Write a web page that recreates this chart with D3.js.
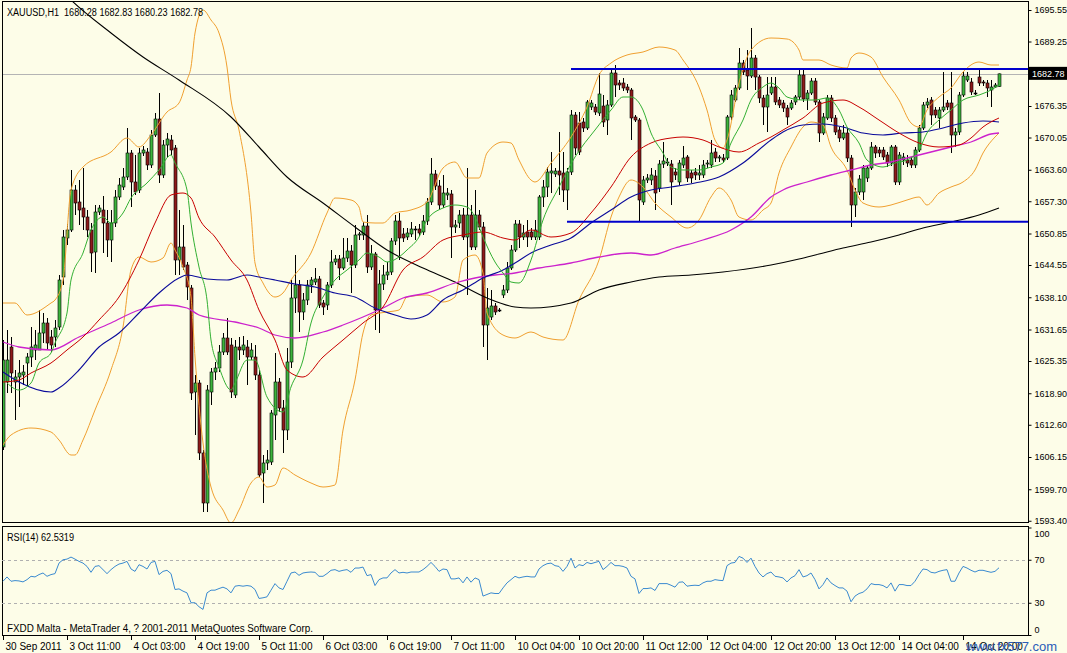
<!DOCTYPE html>
<html><head><meta charset="utf-8">
<script src="https://cdn.jsdelivr.net/npm/d3@7"></script>
<style>html,body{margin:0;padding:0;overflow:hidden;background:#fdfde8}svg{display:block}text{font-family:"Liberation Sans",Arial,sans-serif}</style>
</head><body><svg id="c" width="1067" height="653"></svg>
<script>
// ---------- DATA ----------
const symbolTitle = "XAUUSD,H1  1680.28 1682.83 1680.23 1682.78";
const rsiTitle = "RSI(14) 62.5319";
const footer = "FXDD Malta - MetaTrader 4, ? 2001-2011 MetaQuotes Software Corp.";
const timeLabels = ["30 Sep 2011","3 Oct 11:00","4 Oct 03:00","4 Oct 19:00","5 Oct 11:00","6 Oct 03:00","6 Oct 19:00","7 Oct 11:00","10 Oct 04:00","10 Oct 20:00","11 Oct 12:00","12 Oct 04:00","12 Oct 20:00","13 Oct 12:00","14 Oct 04:00","14 Oct 20:00"];
const timeLabelBars = [0,16,32,48,64,80,96,112,128,144,160,176,192,208,224,240];
const priceTicks = [1695.55,1689.25,1676.35,1670.05,1663.60,1657.30,1650.85,1644.55,1638.10,1631.65,1625.35,1618.90,1612.60,1606.15,1599.70,1593.40];
const rsiTicks = [100,70,30,0];
const lastPrice = 1682.78;
const resistance = {price:1683.75, fromBar:142};
const support = {price:1653.20, fromBar:141};

const open = [1608.15,1621.15,1628.15,1621.15,1622.15,1622.55,1624.95,1626.15,1627.55,1627.55,
1630.95,1632.95,1630.15,1630.15,1632.15,1642.15,1649.95,1651.55,1659.55,1657.15,
1655.95,1654.15,1651.55,1647.15,1655.15,1655.55,1652.95,1649.55,1652.95,1658.15,
1660.15,1662.15,1666.95,1661.15,1659.55,1666.95,1667.15,1664.55,1670.55,1673.75,
1662.55,1668.55,1669.55,1667.95,1645.55,1648.15,1644.55,1639.95,1619.15,1620.95,
1606.95,1596.95,1619.15,1623.15,1623.95,1627.15,1629.95,1628.55,1618.55,1628.15,
1627.55,1628.15,1626.15,1626.15,1622.55,1602.95,1604.95,1605.15,1614.55,1621.15,
1615.95,1611.55,1625.15,1637.95,1640.55,1635.15,1637.55,1640.55,1641.15,1641.75,
1636.95,1636.55,1640.55,1645.15,1645.75,1643.95,1645.95,1647.35,1644.55,1650.55,
1650.55,1652.35,1644.15,1646.75,1635.55,1640.75,1642.55,1643.15,1649.35,1653.35,
1650.75,1650.15,1650.75,1651.75,1651.75,1651.15,1653.35,1657.15,1662.75,1660.35,
1656.55,1658.55,1658.75,1652.15,1652.95,1654.55,1650.15,1654.55,1648.15,1654.55,
1652.15,1632.55,1634.15,1636.35,1635.55,1638.55,1639.55,1643.95,1647.55,1652.75,
1650.15,1651.15,1651.15,1650.15,1650.15,1658.15,1660.15,1662.95,1662.75,1663.35,
1662.95,1659.55,1663.15,1674.55,1672.95,1673.15,1671.95,1676.15,1676.15,1674.95,
1676.35,1673.55,1676.55,1682.95,1680.95,1680.95,1680.15,1679.55,1674.15,1673.55,
1657.15,1661.55,1661.55,1662.35,1659.95,1664.75,1665.15,1664.75,1663.15,1661.15,
1664.55,1666.15,1662.95,1663.15,1662.55,1662.55,1664.75,1664.55,1667.15,1665.95,
1665.95,1665.95,1674.15,1677.55,1679.95,1684.95,1683.55,1682.35,1685.95,1682.15,
1677.95,1676.15,1678.95,1680.15,1677.55,1676.95,1675.95,1675.95,1677.15,1678.15,
1682.55,1677.75,1678.95,1681.35,1677.15,1670.95,1673.95,1677.95,1673.95,1671.55,
1669.95,1670.95,1665.95,1656.55,1659.15,1659.15,1661.95,1663.95,1668.15,1667.55,
1667.55,1666.55,1664.95,1668.15,1661.15,1665.55,1665.55,1665.55,1664.55,1667.55,
1671.95,1676.55,1677.55,1675.55,1673.95,1675.55,1676.95,1676.95,1670.55,1671.15,
1678.55,1681.55,1681.15,1678.95,1682.15,1681.15,1680.95,1679.55,1680.15,1680.28];
const high = [1629.55,1631.55,1630.15,1623.55,1625.55,1624.55,1626.95,1632.15,1631.55,1635.55,
1634.95,1633.95,1631.55,1633.55,1642.55,1651.55,1652.75,1663.55,1660.55,1661.55,
1663.95,1655.55,1652.95,1656.55,1656.55,1658.35,1655.55,1655.55,1659.55,1661.95,
1663.95,1671.95,1667.55,1666.55,1667.95,1668.35,1667.95,1671.55,1674.95,1678.95,
1669.55,1670.95,1670.55,1668.55,1655.55,1652.55,1645.15,1640.55,1622.55,1621.55,
1607.55,1620.55,1623.95,1625.15,1628.55,1630.95,1633.95,1629.95,1629.55,1630.15,
1630.35,1629.55,1628.95,1628.55,1623.55,1606.55,1607.55,1615.55,1626.95,1621.95,
1617.55,1627.95,1641.55,1646.55,1641.55,1638.95,1641.55,1642.15,1643.95,1642.35,
1637.55,1641.15,1647.55,1646.55,1646.55,1649.95,1649.95,1648.55,1652.55,1651.15,
1653.15,1654.55,1648.55,1647.15,1643.55,1644.55,1645.15,1649.95,1654.55,1654.95,
1651.95,1651.95,1653.15,1652.35,1652.75,1654.55,1657.95,1665.95,1663.55,1661.55,
1662.55,1659.95,1659.55,1653.55,1655.55,1655.95,1663.95,1656.55,1659.55,1655.55,
1653.15,1639.95,1639.55,1636.95,1635.95,1640.55,1645.15,1648.55,1653.55,1653.55,
1652.55,1653.55,1651.95,1653.55,1658.55,1661.55,1664.15,1667.15,1663.95,1671.15,
1667.15,1663.95,1675.55,1675.15,1675.15,1673.95,1677.55,1677.55,1676.75,1682.95,
1678.55,1677.55,1683.95,1684.55,1681.55,1681.95,1680.75,1679.95,1674.55,1673.95,
1662.35,1662.75,1663.95,1663.55,1665.55,1669.15,1665.95,1665.55,1663.95,1665.55,
1668.35,1666.55,1663.55,1663.95,1664.55,1665.55,1665.55,1669.55,1667.95,1666.55,
1666.75,1674.55,1679.55,1680.55,1687.95,1685.55,1687.55,1691.95,1686.55,1682.55,
1678.55,1682.15,1682.15,1682.15,1678.15,1677.55,1676.55,1677.55,1678.55,1683.55,
1683.55,1679.55,1681.95,1681.95,1677.55,1674.95,1678.55,1678.55,1674.55,1672.15,
1672.55,1671.95,1666.55,1659.95,1662.55,1664.55,1664.55,1669.15,1668.55,1668.15,
1668.15,1667.15,1668.55,1668.55,1667.15,1666.95,1666.55,1666.15,1668.15,1672.55,
1677.15,1677.95,1678.15,1676.15,1676.15,1683.15,1677.55,1683.15,1671.95,1679.15,
1683.15,1683.15,1681.95,1679.55,1683.55,1681.55,1681.55,1681.55,1680.95,1682.83];
const low = [1607.55,1618.95,1618.95,1613.55,1616.15,1620.55,1620.15,1624.15,1625.55,1627.55,
1628.95,1627.55,1627.15,1628.15,1631.55,1640.55,1648.55,1651.15,1654.55,1652.55,
1651.55,1650.15,1643.15,1642.95,1654.55,1646.95,1646.15,1645.15,1652.15,1657.55,
1659.55,1661.55,1656.15,1658.55,1658.95,1666.35,1663.55,1663.95,1670.15,1660.95,
1661.95,1666.15,1666.55,1642.55,1642.55,1643.55,1637.55,1617.55,1610.55,1605.55,
1595.15,1595.15,1616.55,1621.55,1623.15,1626.55,1626.55,1617.95,1617.95,1625.55,
1626.55,1620.55,1625.55,1621.55,1602.15,1596.95,1603.55,1604.55,1609.55,1615.15,
1606.95,1609.55,1623.95,1634.95,1631.15,1633.55,1636.55,1638.95,1640.55,1635.95,
1634.55,1635.55,1639.95,1644.55,1641.55,1643.55,1645.15,1638.95,1643.95,1649.55,
1649.55,1642.95,1643.55,1631.55,1630.95,1639.55,1641.55,1642.55,1648.55,1645.55,
1649.15,1649.55,1650.15,1649.55,1650.35,1650.55,1652.55,1656.55,1659.55,1655.55,
1655.95,1657.55,1645.95,1650.95,1651.95,1649.55,1638.55,1647.55,1647.55,1651.55,
1628.15,1625.55,1633.55,1634.55,1635.15,1637.95,1638.95,1643.55,1647.15,1647.95,
1649.55,1648.15,1649.55,1649.55,1649.55,1656.15,1658.15,1658.95,1662.15,1658.55,
1657.15,1655.55,1662.55,1666.55,1666.55,1671.15,1671.55,1675.55,1674.55,1674.35,
1672.15,1670.55,1676.15,1678.15,1679.55,1679.35,1678.95,1669.55,1673.15,1653.15,
1656.55,1660.95,1660.55,1655.55,1659.15,1663.95,1664.35,1656.55,1661.55,1660.55,
1663.95,1661.15,1660.95,1661.55,1661.55,1661.95,1663.95,1663.95,1665.15,1665.15,
1664.95,1665.55,1673.55,1677.15,1679.55,1682.55,1679.55,1681.95,1679.55,1676.95,
1672.55,1671.15,1678.55,1676.55,1675.95,1675.15,1672.55,1675.55,1676.55,1677.55,
1677.15,1675.55,1678.55,1676.55,1669.15,1670.55,1673.55,1673.15,1670.55,1669.15,
1669.55,1665.15,1652.15,1654.15,1658.55,1657.55,1661.15,1663.55,1665.95,1666.15,
1665.55,1664.15,1664.35,1660.55,1660.55,1664.55,1664.15,1663.95,1663.95,1667.15,
1671.55,1675.95,1672.55,1673.95,1671.95,1675.15,1675.55,1666.95,1668.15,1670.55,
1678.15,1681.15,1678.55,1678.55,1680.35,1680.35,1678.15,1676.15,1679.95,1680.23];
const close = [1625.55,1625.55,1622.95,1622.15,1622.95,1623.15,1626.15,1628.15,1628.55,1630.95,
1632.95,1628.95,1628.55,1631.95,1641.55,1650.15,1651.55,1659.55,1656.95,1655.55,
1654.15,1651.55,1646.95,1655.15,1655.95,1652.95,1649.55,1652.95,1658.15,1660.55,
1662.15,1666.95,1661.15,1659.15,1666.95,1667.55,1664.55,1670.55,1673.75,1662.55,
1668.55,1669.75,1667.55,1645.55,1648.15,1644.15,1640.15,1618.95,1620.95,1606.95,
1596.95,1619.55,1623.15,1623.95,1627.15,1629.95,1627.15,1619.15,1628.15,1627.55,
1628.55,1626.15,1627.55,1622.55,1602.55,1604.95,1605.55,1614.95,1621.15,1615.95,
1611.55,1625.15,1637.95,1640.55,1635.15,1637.55,1640.55,1641.55,1641.75,1636.55,
1636.15,1640.55,1645.15,1645.75,1643.95,1645.95,1647.35,1644.55,1650.55,1650.75,
1652.35,1644.15,1646.75,1635.55,1640.75,1642.55,1643.15,1649.35,1653.35,1649.95,
1649.95,1650.95,1651.75,1651.75,1650.95,1653.35,1657.15,1662.75,1660.35,1656.55,
1658.95,1658.95,1652.15,1652.55,1654.55,1650.15,1654.55,1648.15,1654.55,1652.15,
1632.55,1635.95,1636.35,1635.15,1635.55,1639.55,1643.95,1647.55,1652.75,1650.15,
1650.95,1650.15,1650.15,1651.55,1658.15,1660.15,1663.15,1663.35,1663.35,1662.55,
1659.55,1663.15,1674.55,1667.95,1667.15,1671.95,1677.15,1676.95,1675.15,1678.75,
1673.15,1676.55,1682.95,1680.55,1680.55,1679.95,1679.55,1673.95,1673.55,1657.55,
1661.55,1661.95,1662.55,1658.95,1664.75,1665.35,1665.15,1661.15,1662.55,1664.95,
1665.95,1661.95,1661.95,1662.55,1662.95,1664.55,1664.95,1666.95,1665.95,1666.15,
1665.55,1674.15,1678.55,1679.95,1684.95,1683.15,1682.35,1685.95,1682.15,1677.95,
1676.15,1678.55,1680.15,1677.15,1676.55,1675.95,1674.15,1676.95,1678.15,1682.55,
1677.75,1678.95,1681.35,1677.15,1670.95,1674.15,1677.95,1673.95,1671.15,1669.95,
1670.95,1665.95,1656.55,1659.15,1661.75,1663.95,1663.95,1668.15,1666.95,1666.95,
1666.15,1664.95,1668.15,1661.15,1666.55,1666.15,1664.95,1664.55,1667.55,1671.95,
1676.55,1677.15,1674.55,1674.55,1675.55,1676.15,1676.15,1670.55,1671.15,1678.55,
1682.35,1682.35,1679.15,1678.95,1680.95,1680.95,1679.95,1680.15,1680.55,1682.78];

// indicator lines: [bar index, price]
const maGreen = [[1,1620.95],[4,1619.55],[7,1620.95],[9,1624.95],[12,1626.95],[13,1628.95],[16,1634.95],[17,1641.55],[20,1646.95],[22,1651.55],[25,1654.15],[27,1652.95],[30,1654.95],[32,1657.95],[36,1660.95],[39,1663.55],[42,1666.55],[43,1664.95],[46,1659.55],[47,1652.95],[49,1644.15],[51,1637.55],[52,1629.55],[54,1624.15],[57,1619.55],[58,1620.95],[61,1625.55],[63,1625.55],[66,1618.15],[70,1615.15],[72,1620.15],[75,1625.55],[77,1632.95],[80,1638.15],[83,1641.55],[86,1643.55],[89,1645.55],[91,1646.95],[94,1646.15],[96,1645.15],[99,1646.15],[101,1647.55],[104,1650.15],[106,1653.55],[110,1655.95],[113,1656.55],[116,1656.15],[118,1654.15],[120,1650.15],[123,1645.15],[125,1642.95],[127,1641.15],[129,1640.95],[132,1645.55],[135,1653.55],[139,1660.15],[143,1666.15],[148,1671.55],[152,1675.55],[155,1678.15],[157,1678.15],[160,1675.55],[162,1670.95],[165,1666.95],[167,1664.15],[170,1663.55],[174,1663.55],[177,1664.15],[180,1664.95],[182,1668.95],[185,1673.55],[187,1677.55],[190,1680.15],[192,1680.95],[194,1679.95],[196,1678.15],[200,1677.55],[203,1677.55],[206,1677.95],[209,1675.55],[211,1672.15],[214,1668.95],[216,1665.55],[220,1664.15],[223,1664.95],[226,1665.55],[229,1667.55],[231,1670.95],[234,1673.55],[237,1675.55],[240,1677.55],[244,1678.55],[247,1679.55],[249,1680.55]];
const maRed = [[0,1621.15],[4,1621.55],[7,1622.95],[12,1624.95],[16,1627.55],[20,1630.15],[24,1633.55],[29,1638.15],[34,1645.55],[38,1652.95],[42,1658.55],[45,1658.95],[47,1657.95],[49,1653.95],[53,1650.15],[57,1645.55],[61,1641.55],[64,1635.55],[68,1629.55],[71,1623.55],[75,1622.15],[80,1626.15],[85,1629.55],[90,1632.95],[95,1636.15],[100,1643.55],[105,1646.15],[110,1649.55],[115,1650.55],[120,1651.15],[125,1649.95],[128,1649.55],[132,1651.55],[137,1650.15],[142,1650.95],[147,1654.95],[152,1660.15],[157,1666.15],[162,1668.95],[167,1669.95],[170,1670.15],[175,1669.55],[179,1668.15],[184,1667.15],[189,1668.95],[192,1670.15],[195,1671.55],[200,1673.95],[205,1676.95],[210,1677.55],[214,1676.15],[219,1673.55],[224,1670.95],[229,1668.95],[234,1668.15],[239,1668.55],[242,1669.95],[245,1672.15],[249,1673.95]];
const maBlue = [[0,1623.15],[4,1621.15],[12,1619.15],[14,1619.95],[19,1623.55],[24,1628.15],[29,1630.95],[34,1634.95],[39,1638.95],[44,1641.95],[46,1642.55],[51,1641.75],[56,1641.55],[61,1642.55],[64,1642.15],[68,1641.55],[73,1640.75],[78,1640.15],[83,1638.95],[88,1638.15],[93,1635.95],[98,1634.55],[102,1633.75],[106,1634.55],[110,1637.55],[115,1639.55],[120,1641.95],[125,1643.55],[128,1644.95],[132,1646.95],[137,1648.55],[142,1649.95],[147,1652.95],[152,1655.55],[157,1658.15],[162,1659.55],[167,1660.15],[173,1660.95],[179,1662.15],[185,1664.95],[192,1669.55],[195,1671.15],[200,1672.55],[205,1672.75],[210,1672.15],[215,1670.95],[220,1670.55],[225,1670.95],[230,1671.15],[235,1671.95],[240,1672.95],[245,1673.35],[249,1673.15]];
const maMagenta = [[0,1629.15],[4,1628.15],[12,1627.55],[19,1630.15],[27,1632.95],[34,1635.55],[41,1636.55],[46,1635.95],[49,1634.55],[58,1633.15],[64,1631.95],[68,1630.55],[73,1629.95],[80,1631.15],[85,1632.55],[90,1634.15],[95,1635.95],[100,1637.95],[106,1638.95],[113,1640.95],[118,1641.95],[123,1642.55],[128,1642.95],[134,1643.95],[142,1644.95],[149,1646.15],[157,1646.95],[162,1646.55],[168,1647.95],[175,1649.55],[182,1651.55],[187,1654.15],[192,1658.15],[195,1659.55],[201,1661.15],[207,1662.55],[212,1663.55],[217,1664.55],[222,1665.15],[227,1666.15],[232,1667.15],[237,1668.15],[242,1669.15],[247,1670.75],[249,1670.95]];
const maBlack = [[14,1699.95],[17,1697.55],[27,1690.95],[35,1686.15],[44,1681.55],[57,1674.15],[64,1668.15],[71,1662.15],[80,1656.95],[88,1652.15],[96,1647.55],[105,1643.95],[113,1641.15],[121,1637.95],[128,1636.15],[132,1635.95],[142,1636.95],[149,1639.55],[157,1641.15],[164,1642.15],[172,1642.55],[180,1643.15],[192,1644.55],[199,1645.75],[204,1646.75],[210,1647.95],[217,1649.15],[224,1650.55],[230,1651.95],[237,1653.15],[244,1654.55],[249,1655.95]];
const bbUpper = [[0,1636.95],[3,1636.95],[6,1634.55],[12,1636.95],[13,1637.55],[15,1641.55],[17,1659.55],[20,1664.15],[27,1667.15],[31,1669.95],[34,1668.15],[37,1670.55],[41,1675.15],[44,1676.95],[46,1681.55],[47,1684.15],[48,1690.95],[50,1695.55],[52,1693.55],[54,1690.95],[56,1684.15],[57,1677.55],[59,1671.55],[62,1654.95],[63,1644.95],[65,1640.95],[68,1638.15],[70,1638.95],[72,1641.55],[77,1646.95],[81,1654.95],[83,1657.95],[87,1657.55],[89,1656.15],[90,1653.15],[93,1652.95],[95,1652.95],[98,1654.95],[102,1655.55],[106,1657.15],[110,1663.95],[113,1665.15],[116,1661.95],[119,1661.95],[121,1666.95],[125,1669.15],[127,1668.95],[129,1665.55],[132,1661.55],[133,1661.15],[137,1664.95],[142,1670.15],[146,1676.15],[149,1682.55],[152,1684.95],[156,1686.55],[160,1687.15],[164,1688.15],[168,1687.55],[170,1685.55],[174,1680.15],[176,1675.55],[178,1669.55],[180,1667.95],[181,1669.55],[184,1680.95],[187,1687.55],[192,1689.95],[196,1689.75],[199,1687.55],[200,1685.55],[204,1685.55],[207,1684.55],[211,1683.95],[212,1685.95],[214,1686.95],[217,1686.15],[220,1682.15],[224,1677.55],[227,1672.95],[229,1672.15],[231,1675.55],[234,1678.15],[237,1679.95],[240,1683.15],[244,1685.15],[247,1684.55],[249,1684.55]];
const bbLower = [[0,1608.55],[2,1610.55],[7,1611.95],[12,1611.15],[14,1609.55],[17,1606.55],[18,1606.55],[20,1609.55],[23,1615.55],[27,1623.55],[30,1632.15],[32,1643.55],[34,1646.15],[37,1645.15],[40,1645.95],[42,1648.95],[43,1647.55],[45,1644.15],[47,1638.15],[48,1626.15],[50,1608.95],[52,1600.15],[55,1595.55],[57,1592.95],[59,1595.55],[62,1600.95],[64,1602.15],[66,1600.15],[68,1600.55],[70,1603.95],[73,1602.55],[77,1600.95],[80,1600.15],[83,1600.55],[85,1611.55],[88,1621.55],[90,1630.95],[92,1634.55],[96,1635.15],[99,1635.55],[101,1638.15],[106,1638.55],[110,1637.15],[113,1638.15],[115,1645.55],[118,1646.55],[120,1642.95],[121,1634.95],[125,1630.55],[128,1629.95],[132,1631.15],[135,1630.15],[140,1629.55],[144,1637.55],[149,1645.55],[152,1654.15],[154,1658.15],[157,1661.55],[160,1660.15],[163,1656.95],[167,1654.15],[171,1651.95],[174,1653.55],[177,1658.15],[179,1659.95],[182,1657.55],[184,1654.15],[187,1653.55],[190,1655.55],[192,1656.95],[194,1662.95],[197,1668.15],[200,1672.15],[202,1673.15],[205,1672.55],[207,1668.15],[211,1663.55],[213,1659.55],[215,1656.95],[219,1656.15],[222,1656.55],[226,1657.55],[229,1658.15],[231,1656.55],[234,1658.95],[237,1660.15],[240,1661.15],[243,1663.55],[245,1666.95],[248,1670.15],[249,1670.95]];

const rsi = [50.0,54.0,50.0,50.6,50.3,49.4,51.5,54.6,54.0,56.2,
57.7,54.6,56.2,57.1,66.9,70.0,70.6,72.5,70.6,68.5,
66.9,63.8,58.3,63.8,64.5,60.8,57.1,60.8,63.8,66.0,
66.9,68.5,61.4,59.2,65.4,63.8,61.4,67.5,68.5,56.2,
59.2,60.2,57.1,42.3,42.9,40.8,39.2,30.0,30.0,26.3,
23.8,39.2,41.7,41.7,43.2,44.5,42.9,39.2,45.4,46.0,
45.4,46.0,45.4,42.3,34.0,34.6,35.5,41.7,47.8,43.8,
42.3,50.0,57.7,58.6,55.5,57.7,58.3,58.6,58.3,54.6,
54.6,57.1,60.2,60.8,59.2,60.2,60.8,58.3,62.3,62.3,
63.2,55.2,56.2,46.0,51.5,53.1,53.1,57.7,60.8,57.7,
58.3,57.7,58.6,58.6,58.6,60.8,63.8,67.5,63.8,59.2,
61.4,60.8,52.2,52.2,53.1,48.5,54.0,49.1,53.1,51.5,
36.2,37.7,39.2,38.6,38.6,43.8,48.5,51.5,54.6,53.1,
54.0,54.6,54.0,54.0,61.4,64.5,66.3,66.9,64.5,63.8,
59.2,63.8,71.5,62.3,65.4,64.5,67.5,66.3,67.5,68.5,
60.8,63.8,67.5,64.5,64.5,63.8,62.3,54.6,52.2,38.6,
43.2,43.2,43.8,41.4,47.8,47.8,47.8,46.3,44.5,49.1,
49.4,45.4,46.0,46.3,46.0,48.5,50.0,50.0,51.5,50.9,
50.6,64.5,66.9,67.5,73.1,71.5,67.5,71.5,63.8,57.7,
54.0,57.1,58.6,54.6,54.0,53.1,49.4,53.1,55.2,60.8,
54.0,55.2,57.7,51.5,42.9,46.9,53.1,48.5,46.0,43.8,
43.8,40.8,30.9,36.2,38.6,39.8,42.9,47.8,46.9,46.9,
46.0,43.8,48.5,40.8,46.9,46.9,46.0,46.0,50.0,56.2,
61.4,60.8,58.3,57.7,59.2,60.2,60.8,50.0,50.0,57.7,
63.8,62.3,60.2,58.6,60.2,60.2,59.2,58.3,59.2,62.53];

// ---------- DRAW ----------
const BG = "#fdfde8";
const W = 1067, H = 653;
const L = 2, R = 1028, mainTop = 1, mainBot = 523, rsiTop = 526, rsiBot = 636;
const FONT = '"Liberation Sans",Arial,sans-serif';
const svg = d3.select("#c");
svg.append("rect").attr("width", W).attr("height", H).attr("fill", BG);

const x = d3.scaleLinear().domain([0, 249]).range([3, 999]);
const y = d3.scaleLinear().domain([1593.15, 1697.55]).range([522, 0]);
const ry = d3.scaleLinear().domain([0, 100]).range([635, 527.5]);

const defs = svg.append("defs");
defs.append("clipPath").attr("id", "cm").append("rect").attr("x", L).attr("y", mainTop).attr("width", R - L).attr("height", mainBot - mainTop);
defs.append("clipPath").attr("id", "cr").append("rect").attr("x", L).attr("y", rsiTop).attr("width", R - L).attr("height", rsiBot - rsiTop);

const gm = svg.append("g").attr("clip-path", "url(#cm)");

// last price grey line
gm.append("line").attr("x1", L).attr("x2", R).attr("y1", Math.round(y(lastPrice)) + 0.5).attr("y2", Math.round(y(lastPrice)) + 0.5)
  .attr("stroke", "#b4b4b4").attr("stroke-width", 1);

// candles
const bars = d3.range(open.length).map(i => ({i, o: open[i], h: high[i], l: low[i], c: close[i]}));
const cg = gm.append("g");
cg.selectAll("line.w").data(bars).join("line").attr("class", "w")
  .attr("x1", d => Math.round(x(d.i)) + 0.5).attr("x2", d => Math.round(x(d.i)) + 0.5)
  .attr("y1", d => y(d.h)).attr("y2", d => y(d.l)).attr("stroke", "#000").attr("stroke-width", 1);
cg.selectAll("rect.b").data(bars).join("rect").attr("class", "b")
  .attr("x", d => Math.round(x(d.i)) - 1).attr("width", 3)
  .attr("y", d => Math.min(y(d.o), y(d.c)))
  .attr("height", d => Math.max(1, Math.abs(y(d.o) - y(d.c))))
  .attr("fill", d => d.c > d.o ? "#3cb43c" : (d.c < d.o ? "#8e1a1a" : "#000"))
  .attr("stroke", "#000").attr("stroke-width", 0.6);

// indicator lines
const ln = d3.line().x(d => x(d[0])).y(d => y(d[1])).curve(d3.curveMonotoneX);
const drawLine = (data, color, w) => gm.append("path").datum(data).attr("d", ln).attr("fill", "none").attr("stroke", color).attr("stroke-width", w);
drawLine(bbUpper, "#f0a030", 1);
drawLine(bbLower, "#f0a030", 1);
drawLine(maBlack, "#000000", 1.1);
drawLine(maMagenta, "#cc22cc", 1.3);
drawLine(maBlue, "#0a0a9a", 1.1);
drawLine(maRed, "#c80000", 1);
drawLine(maGreen, "#33b033", 1);

// horizontal trend levels
[resistance, support].forEach(lv => {
  gm.append("line").attr("x1", x(lv.fromBar)).attr("x2", R).attr("y1", y(lv.price)).attr("y2", y(lv.price))
    .attr("stroke", "#0000cc").attr("stroke-width", 2);
});

// panel frames
svg.append("rect").attr("x", L + 0.5).attr("y", mainTop + 0.5).attr("width", R - L).attr("height", mainBot - mainTop - 1)
  .attr("fill", "none").attr("stroke", "#000");
svg.append("rect").attr("x", L + 0.5).attr("y", rsiTop + 0.5).attr("width", R - L).attr("height", rsiBot - rsiTop - 1)
  .attr("fill", "none").attr("stroke", "#000");

// price axis
const pa = svg.append("g").attr("transform", `translate(${R + 0.5},0)`)
  .call(d3.axisRight(y).tickValues(priceTicks).tickSize(3).tickPadding(3).tickFormat(d3.format(".2f")));
pa.select(".domain").remove();
pa.selectAll("line").attr("stroke", "#000");
pa.selectAll("text").attr("font-size", 9).attr("fill", "#000").attr("font-family", FONT);

// last price tag
svg.append("rect").attr("x", R + 1).attr("y", y(lastPrice) - 7).attr("width", 38).attr("height", 13).attr("fill", "#000");
svg.append("text").attr("x", R + 4).attr("y", y(lastPrice) + 3.5).attr("font-size", 9).attr("fill", "#fff")
  .attr("font-family", FONT).text(d3.format(".2f")(lastPrice));

// titles
svg.append("text").attr("x", 7).attr("y", 15.5).attr("font-size", 10).attr("fill", "#000")
  .attr("textLength", 196).attr("lengthAdjust", "spacingAndGlyphs").style("white-space", "pre").text(symbolTitle);

// RSI panel
const gr = svg.append("g").attr("clip-path", "url(#cr)");
[70, 30].forEach(v => gr.append("line").attr("x1", L).attr("x2", R).attr("y1", Math.round(ry(v)) + 0.5).attr("y2", Math.round(ry(v)) + 0.5)
  .attr("stroke", "#b0b0b0").attr("stroke-dasharray", "3,3"));
gr.append("path").datum(rsi).attr("fill", "none").attr("stroke", "#3a8ad0").attr("stroke-width", 1)
  .attr("d", d3.line().x((d, i) => x(i)).y(d => ry(d)));
svg.append("text").attr("x", 7).attr("y", 541).attr("font-size", 10).attr("fill", "#000")
  .attr("textLength", 67).attr("lengthAdjust", "spacingAndGlyphs").text(rsiTitle);
svg.append("text").attr("x", 7).attr("y", 632).attr("font-size", 10).attr("fill", "#000")
  .attr("textLength", 306).attr("lengthAdjust", "spacingAndGlyphs").text(footer);

const ra = svg.append("g").attr("transform", `translate(${R + 0.5},0)`)
  .call(d3.axisRight(ry).tickValues(rsiTicks).tickSize(3).tickPadding(3));
ra.select(".domain").remove();
ra.selectAll("line").attr("stroke", "#000");
ra.selectAll("text").attr("font-size", 9).attr("fill", "#000").attr("font-family", FONT)
  .attr("dy", d => d === 100 ? "0.95em" : (d === 0 ? "-0.3em" : "0.32em"));

// time axis
const tg = svg.append("g");
timeLabelBars.forEach((b, k) => {
  const tx = Math.round(x(b)) + 0.5;
  tg.append("line").attr("x1", tx).attr("x2", tx).attr("y1", rsiBot).attr("y2", rsiBot + 4).attr("stroke", "#000");
  tg.append("text").attr("x", tx + 2).attr("y", 650).attr("font-size", 10).attr("fill", "#000").text(timeLabels[k]);
});

// watermark (overlaps the last time label, as in the source image)
svg.append("text").attr("x", 966).attr("y", 651).attr("font-size", 13).attr("fill", "#2a5cb8")
  .attr("font-family", '"Liberation Mono","DejaVu Sans Mono",monospace').text("www.fx577.com");
</script></body></html>
